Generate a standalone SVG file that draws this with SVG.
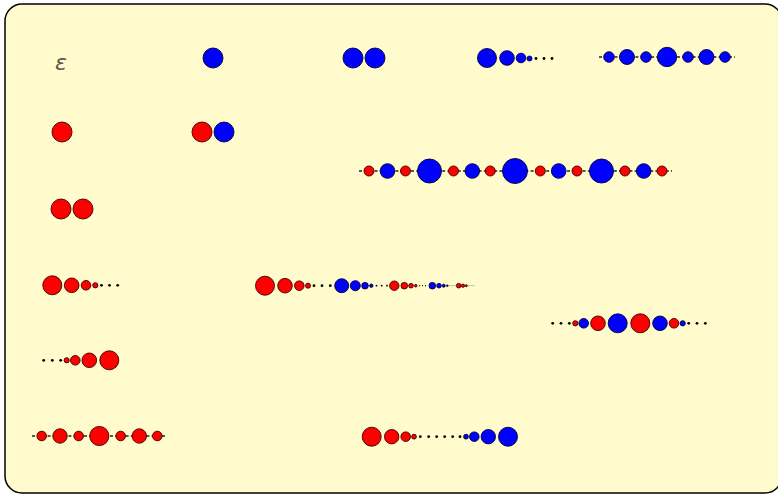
<svg xmlns="http://www.w3.org/2000/svg" width="778" height="494" viewBox="0 0 778 494">
<style>
.bg{fill:#fffbcc;stroke:#000;stroke-width:1.5}
.r{fill:#ff0000;stroke:#3a0000;stroke-width:0.9}
.b{fill:#0000ff;stroke:#000033;stroke-width:0.9}
.d{fill:#000}
.ln{stroke:#222;stroke-width:1.3;stroke-dasharray:3 2.2;fill:none}
.thin{stroke:#888;stroke-width:0.5;fill:none}
.eps{font-family:"DejaVu Sans",sans-serif;font-style:italic;font-size:22px;fill:#555}
</style>
<rect class="bg" x="5" y="4" width="777" height="489" rx="17"/>

<g id="n-empty"><text class="eps" x="61" y="70" text-anchor="middle">ε</text></g>

<g id="n-b1"><circle class="b" cx="213" cy="58" r="10"/></g>

<g id="n-b2"><circle class="b" cx="353" cy="58" r="10"/><circle class="b" cx="375" cy="58" r="10"/></g>

<g id="n-bdec">
<circle class="b" cx="487" cy="58" r="9.5"/><circle class="b" cx="507" cy="58" r="7.3"/><circle class="b" cx="521" cy="58" r="4.8"/><circle class="b" cx="529.5" cy="58.5" r="2.5"/>
<circle class="d" cx="536" cy="58.5" r="1.4"/><circle class="d" cx="544" cy="58.5" r="1.4"/><circle class="d" cx="552" cy="58.5" r="1.4"/>
</g>

<g id="n-bbi">
<line class="ln" x1="599" y1="57" x2="735" y2="57"/>
<circle class="b" cx="609" cy="57" r="5.3"/><circle class="b" cx="627" cy="57" r="7.5"/><circle class="b" cx="646" cy="57" r="5.3"/><circle class="b" cx="667" cy="57" r="9.7"/><circle class="b" cx="688" cy="57" r="5.3"/><circle class="b" cx="706.5" cy="57" r="7.5"/><circle class="b" cx="725" cy="57" r="5.3"/>
</g>

<g id="n-r1"><circle class="r" cx="62" cy="132" r="10"/></g>

<g id="n-rb"><circle class="r" cx="202" cy="132" r="10"/><circle class="b" cx="224" cy="132" r="10"/></g>

<g id="n-long">
<line class="ln" x1="359" y1="171" x2="672" y2="171"/>
<circle class="r" cx="369" cy="171" r="5"/><circle class="b" cx="387.5" cy="171" r="7.3"/><circle class="r" cx="405.5" cy="171" r="5"/><circle class="b" cx="429.5" cy="171" r="12"/>
<circle class="r" cx="453.5" cy="171" r="5"/><circle class="b" cx="472.3" cy="171" r="7.3"/><circle class="r" cx="490.3" cy="171" r="5"/><circle class="b" cx="515" cy="171" r="12.5"/>
<circle class="r" cx="540.3" cy="171" r="5"/><circle class="b" cx="558.7" cy="171" r="7.3"/><circle class="r" cx="577" cy="171" r="5"/><circle class="b" cx="601.5" cy="171" r="12"/>
<circle class="r" cx="625" cy="171" r="5"/><circle class="b" cx="643.7" cy="171" r="7.3"/><circle class="r" cx="662" cy="171" r="5"/>
</g>

<g id="n-r2"><circle class="r" cx="61" cy="209" r="10"/><circle class="r" cx="83" cy="209" r="10"/></g>

<g id="n-rdec">
<circle class="r" cx="52.3" cy="285.3" r="9.5"/><circle class="r" cx="71.7" cy="285.3" r="7.3"/><circle class="r" cx="86" cy="285.3" r="4.8"/><circle class="r" cx="95.3" cy="285.3" r="2.6"/>
<circle class="d" cx="101.5" cy="285.3" r="1.4"/><circle class="d" cx="109.5" cy="285.3" r="1.4"/><circle class="d" cx="117.7" cy="285.3" r="1.4"/>
</g>

<g id="n-rinc">
<circle class="d" cx="43.7" cy="360.3" r="1.4"/><circle class="d" cx="52.3" cy="360.3" r="1.4"/><circle class="d" cx="60.7" cy="360.3" r="1.4"/>
<circle class="r" cx="66.7" cy="360.3" r="2.6"/><circle class="r" cx="75.3" cy="360.3" r="4.8"/><circle class="r" cx="89.3" cy="360.3" r="7.3"/><circle class="r" cx="109.3" cy="360.3" r="9.5"/>
</g>

<g id="n-nested">
<line class="thin" x1="447" y1="285.7" x2="475" y2="285.7"/>
<circle class="r" cx="265" cy="285.7" r="9.5"/><circle class="r" cx="285" cy="285.7" r="7.3"/><circle class="r" cx="299.3" cy="285.7" r="4.8"/><circle class="r" cx="308" cy="285.7" r="2.5"/>
<circle class="d" cx="314" cy="285.7" r="1.4"/><circle class="d" cx="322" cy="285.7" r="1.4"/><circle class="d" cx="330.3" cy="285.7" r="1.4"/>
<circle class="b" cx="341.7" cy="285.7" r="7"/><circle class="b" cx="355.3" cy="285.7" r="5"/><circle class="b" cx="365" cy="285.7" r="3.3"/><circle class="b" cx="371.3" cy="285.7" r="1.7"/>
<circle class="d" cx="376.5" cy="285.7" r="0.9"/><circle class="d" cx="381.7" cy="285.7" r="0.9"/><circle class="d" cx="387" cy="285.7" r="0.9"/>
<circle class="r" cx="394.3" cy="285.7" r="4.7"/><circle class="r" cx="404.3" cy="285.7" r="3.3"/><circle class="r" cx="411" cy="285.7" r="2.3"/><circle class="r" cx="415.7" cy="285.7" r="1.3"/>
<circle class="d" cx="419.5" cy="285.7" r="0.6"/><circle class="d" cx="422.5" cy="285.7" r="0.6"/><circle class="d" cx="425.5" cy="285.7" r="0.6"/>
<circle class="b" cx="432.3" cy="285.7" r="3.3"/><circle class="b" cx="439" cy="285.7" r="2.3"/><circle class="b" cx="443.7" cy="285.7" r="1.5"/><circle class="b" cx="447.3" cy="285.7" r="0.8"/>
<circle class="r" cx="458.7" cy="285.7" r="2.3"/><circle class="r" cx="463" cy="285.7" r="1.6"/><circle class="r" cx="466.3" cy="285.7" r="1"/>
</g>

<g id="n-sym">
<circle class="d" cx="552.7" cy="323.3" r="1.4"/><circle class="d" cx="561" cy="323.3" r="1.4"/><circle class="d" cx="569.3" cy="323.3" r="1.4"/>
<circle class="r" cx="575.3" cy="323.3" r="2.6"/><circle class="b" cx="583.7" cy="323.3" r="4.8"/><circle class="r" cx="598" cy="323.3" r="7.3"/><circle class="b" cx="617.7" cy="323.3" r="9.5"/>
<circle class="r" cx="640.3" cy="323.3" r="9.5"/><circle class="b" cx="660" cy="323.3" r="7.3"/><circle class="r" cx="674" cy="323.3" r="4.8"/><circle class="b" cx="682.7" cy="323.3" r="2.6"/>
<circle class="d" cx="688.7" cy="323.3" r="1.4"/><circle class="d" cx="697" cy="323.3" r="1.4"/><circle class="d" cx="705.3" cy="323.3" r="1.4"/>
</g>

<g id="n-rbi">
<line class="ln" x1="32" y1="436" x2="167" y2="436"/>
<circle class="r" cx="41.7" cy="436" r="4.8"/><circle class="r" cx="60" cy="436" r="7.2"/><circle class="r" cx="78.7" cy="436" r="4.8"/><circle class="r" cx="99.3" cy="436" r="9.6"/><circle class="r" cx="120.7" cy="436" r="4.8"/><circle class="r" cx="139.3" cy="436" r="7.2"/><circle class="r" cx="157.3" cy="436" r="4.8"/>
</g>

<g id="n-rb-conv">
<circle class="r" cx="371.7" cy="436.7" r="9.5"/><circle class="r" cx="391.7" cy="436.7" r="7.2"/><circle class="r" cx="405.7" cy="436.7" r="4.8"/><circle class="r" cx="414" cy="436.7" r="2.4"/>
<circle class="d" cx="420.3" cy="436.7" r="1.4"/><circle class="d" cx="428.7" cy="436.7" r="1.4"/><circle class="d" cx="436.7" cy="436.7" r="1.4"/><circle class="d" cx="444.7" cy="436.7" r="1.4"/><circle class="d" cx="452.7" cy="436.7" r="1.4"/><circle class="d" cx="460" cy="436.7" r="1.4"/>
<circle class="b" cx="466" cy="436.7" r="2.4"/><circle class="b" cx="474.3" cy="436.7" r="4.8"/><circle class="b" cx="488.3" cy="436.7" r="7.2"/><circle class="b" cx="508" cy="436.7" r="9.5"/>
</g>
</svg>
